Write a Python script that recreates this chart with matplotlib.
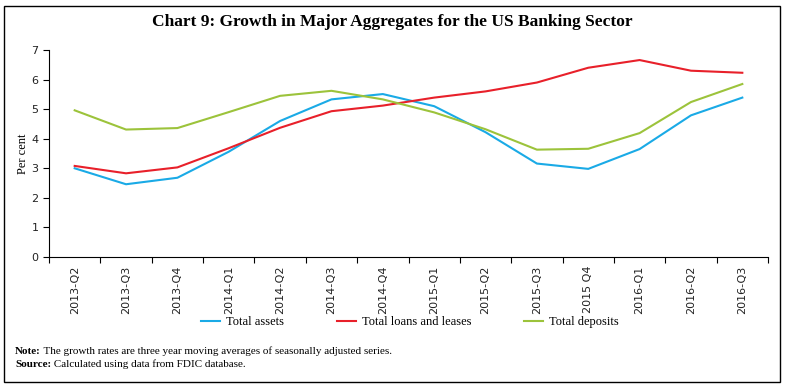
import matplotlib
matplotlib.use("Agg")
import matplotlib.pyplot as plt
from matplotlib.patches import Rectangle
from matplotlib.lines import Line2D

quarters = ["2013-Q2", "2013-Q3", "2013-Q4", "2014-Q1", "2014-Q2", "2014-Q3", "2014-Q4",
            "2015-Q1", "2015-Q2", "2015-Q3", "2015 Q4", "2016-Q1", "2016-Q2", "2016-Q3"]
total_assets = [3.00, 2.46, 2.68, 3.56, 4.60, 5.33, 5.51, 5.10, 4.22, 3.16, 2.98, 3.65, 4.79, 5.39]
total_loans = [3.08, 2.83, 3.03, 3.68, 4.37, 4.93, 5.12, 5.39, 5.60, 5.90, 6.40, 6.66, 6.30, 6.23]
total_deposits = [4.96, 4.31, 4.36, 4.90, 5.45, 5.62, 5.33, 4.89, 4.32, 3.63, 3.66, 4.19, 5.24, 5.85]
series_names = ["Total assets", "Total loans and leases", "Total deposits"]
colors = ["#1AAAE6", "#E8202A", "#9CC33B"]

serif = "Liberation Serif"
sans = "DejaVu Sans"

fig = plt.figure(figsize=(7.85, 3.85), dpi=100)
ax = fig.add_axes([49/785, 1-257/385, (768-49)/785, (257-50)/385])

x = list(range(len(quarters)))
for vals, c, name in zip([total_assets, total_loans, total_deposits], colors, series_names):
    ax.plot(x, vals, color=c, lw=1.5, label=name)

ax.set_xlim(-0.5, len(quarters) - 0.5)
ax.set_ylim(0, 7)
ax.set_yticks(range(0, 8))
ax.set_xticks(x)
ax.set_xticklabels(quarters, rotation=90, fontsize=8, family=sans, color="#222222")
ax.tick_params(axis="x", length=0, pad=6)
ax.set_xticks([i - 0.5 for i in range(len(quarters) + 1)], minor=True)
ax.tick_params(axis="x", which="minor", length=4, direction="out", width=0.8)
ax.tick_params(axis="y", length=4, direction="out", width=0.8, labelsize=8, labelcolor="#222222")
for lab in ax.get_yticklabels():
    lab.set_family(sans)
for s in ["top", "right"]:
    ax.spines[s].set_visible(False)
for s in ["left", "bottom"]:
    ax.spines[s].set_linewidth(0.8)
ax.set_ylabel("Per cent", family=serif, fontsize=9, labelpad=2)

fig.text(0.5, 1-22/385, "Chart 9: Growth in Major Aggregates for the US Banking Sector",
         ha="center", va="center", family=serif, fontweight="bold", fontsize=12.5)

handles = [Line2D([0], [0], color=c, lw=1.5) for c in colors]
fig.legend(handles, series_names, loc="center", bbox_to_anchor=(410/785, 1-322/385),
           ncol=3, frameon=False, prop={"family": serif, "size": 9},
           handlelength=1.5, handletextpad=0.5, columnspacing=4.2)

t1 = fig.text(15/785, 1-356/385, "Note:", family=serif, fontsize=8, fontweight="bold",
              va="bottom")
ax.annotate(" The growth rates are three year moving averages of seasonally adjusted series.",
            xy=(1, 0), xycoords=t1, va="bottom", ha="left", family=serif, fontsize=8,
            annotation_clip=False)
t2 = fig.text(15/785, 1-369/385, "Source:", family=serif, fontsize=8, fontweight="bold",
              va="bottom")
ax.annotate(" Calculated using data from FDIC database.",
            xy=(1, 0), xycoords=t2, va="bottom", ha="left", family=serif, fontsize=8,
            annotation_clip=False)

fig.patches.append(Rectangle((4/785, 1-382/385), 776/785, 376/385, transform=fig.transFigure,
                             fill=False, edgecolor="black", lw=1.0))

fig.savefig("out.png", dpi=100)
